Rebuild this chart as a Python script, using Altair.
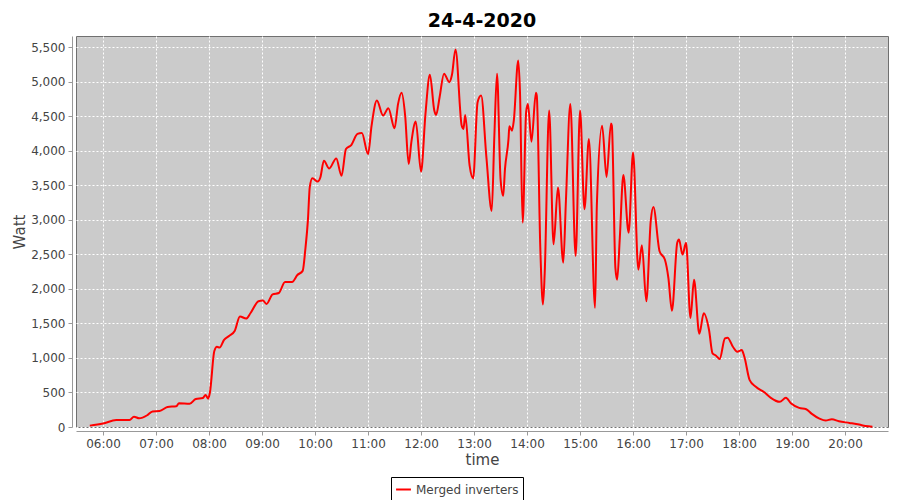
import altair as alt
import pandas as pd

times = ["05:45","06:00","06:15","06:30","06:35","06:41","06:50","06:56","07:04","07:13",
         "07:23","07:26","07:38","07:45","07:53","07:56","07:59","08:01","08:06","08:09",
         "08:12","08:17","08:23","08:29","08:35","08:42","08:47","08:56","09:01","09:05",
         "09:12","09:19","09:26","09:34","09:40","09:46","09:49","09:52","09:54","09:57",
         "10:03","10:06","10:10","10:16","10:24","10:30","10:35","10:41","10:48","10:53",
         "11:00","11:04","11:10","11:17","11:23","11:30","11:34","11:38","11:42","11:46",
         "11:49","11:54","12:00","12:05","12:10","12:15","12:17","12:21","12:26","12:32",
         "12:35","12:39","12:46","12:48","12:50","12:55","12:59","13:04","13:08","13:14",
         "13:20","13:23","13:26","13:30","13:33","13:35","13:39","13:40","13:43","13:45",
         "13:50","13:52","13:55","13:59","14:01","14:05","14:10","14:11","14:15","14:18",
         "14:20","14:25","14:30","14:35","14:41","14:44","14:49","14:55","15:00","15:05",
         "15:10","15:17","15:19","15:25","15:30","15:35","15:36","15:40","15:42","15:45",
         "15:49","15:55","16:00","16:06","16:10","16:15","16:20","16:23","16:30","16:36",
         "16:40","16:44","16:50","16:52","16:56","17:00","17:05","17:09","17:15","17:20",
         "17:26","17:30","17:34","17:38","17:44","17:47","17:53","17:58","18:03","18:06",
         "18:12","18:19","18:29","18:36","18:46","18:53","18:59","19:08","19:16","19:22",
         "19:31","19:38","19:45","19:53","20:05","20:16","20:23","20:31"]

watts = [20,50,100,100,150,125,170,225,230,290,
         300,345,335,405,420,465,410,500,1100,1160,
         1150,1260,1320,1390,1600,1570,1650,1820,1830,1780,
         1920,1940,2100,2100,2200,2260,2570,3010,3470,3600,
         3554,3612,3854,3743,3888,3637,4024,4082,4242,4256,
         3951,4363,4726,4508,4614,4324,4677,4837,4508,3806,
         4121,4421,3695,4532,5098,4581,4517,4774,5113,4992,
         5098,5466,4363,4314,4517,3782,3598,4702,4798,3903,
         3128,4218,5113,3588,3346,3733,4169,4353,4290,4435,
         5306,4846,2959,4566,4677,4130,4837,4798,2596,1773,
         2233,4581,2645,3467,2378,3274,4677,2475,4581,3152,
         4169,1725,3201,4360,3620,4394,4360,2303,2133,2738,
         3648,2811,3972,2278,2632,1819,2980,3184,2545,2424,
         2157,1683,2666,2714,2496,2666,1577,2130,1350,1646,
         1404,1065,1032,983,1283,1293,1162,1090,1114,1017,
         678,582,499,422,364,422,340,277,257,194,
         122,93,112,83,59,35,15,5]

series_name = "Merged inverters"
hour_ticks = list(range(6, 21))
watt_ticks = list(range(0, 5501, 500))

def to_hours(s):
    h, m = s.split(":")
    return int(h) + int(m) / 60.0

df = pd.DataFrame({
    "hour": [to_hours(t) for t in times],
    "watt": watts,
    "series": [series_name] * len(times),
})

font = "DejaVu Sans"

chart = alt.Chart(df).mark_line(strokeWidth=2, interpolate="monotone").encode(
    x=alt.X("hour:Q",
            scale=alt.Scale(domain=[5.49, 20.81], nice=False, zero=False),
            axis=alt.Axis(values=hour_ticks, title="time",
                          labelExpr="(datum.value < 10 ? '0' : '') + datum.value + ':00'",
                          grid=True, gridColor="white", gridDash=[2, 2], gridWidth=1,
                          domainColor="#999999", tickColor="#999999", tickSize=4,
                          labelColor="#444444", labelFontSize=12, labelFont=font,
                          titleColor="#444444", titleFontSize=15, titleFont=font,
                          titleFontWeight="normal", offset=4, titlePadding=3,
                          labelPadding=3)),
    y=alt.Y("watt:Q",
            scale=alt.Scale(domain=[0, 5660], nice=False),
            axis=alt.Axis(values=watt_ticks, title="Watt", format=",d",
                          grid=True, gridColor="white", gridDash=[2, 2], gridWidth=1,
                          domainColor="#999999", tickColor="#999999", tickSize=4,
                          labelColor="#444444", labelFontSize=12, labelFont=font,
                          titleColor="#444444", titleFontSize=15, titleFont=font,
                          titleFontWeight="normal", offset=4, titlePadding=3,
                          labelPadding=3)),
    color=alt.Color("series:N",
                    scale=alt.Scale(range=["#ff0000"]),
                    legend=alt.Legend(title=None, orient="none", legendX=315, legendY=441,
                                      strokeColor="black", fillColor="white", padding=4,
                                      symbolType="stroke", symbolStrokeWidth=2,
                                      symbolSize=220, labelFontSize=12, labelFont=font,
                                      labelColor="#444444", cornerRadius=0)),
).properties(
    width=812, height=391,
    title=alt.TitleParams("24-4-2020", fontSize=19, font=font, fontWeight="bold",
                          anchor="middle", color="black", offset=5),
    autosize=alt.AutoSizeParams(type="none"),
    padding={"left": 68, "top": 28, "right": 4, "bottom": 73},
    background="white",
).configure_view(
    fill="#cbcbcb", stroke="#707070", strokeWidth=1
)

chart.save("out.html", embed_options={"renderer": "svg", "actions": False})
